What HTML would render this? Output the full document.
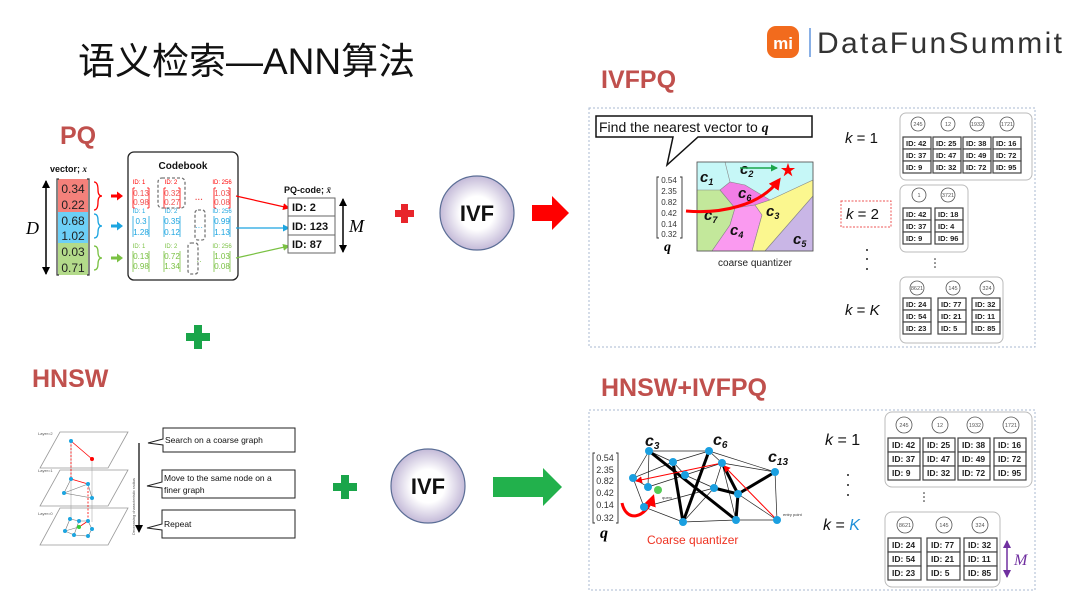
<!DOCTYPE html>
<html><head><meta charset="utf-8"><style>
html,body{margin:0;padding:0;background:#fff;}
svg{display:block;}
text{font-family:"Liberation Sans","Noto Sans CJK SC",sans-serif;}
.s{font-family:"Liberation Serif",serif;}
.c{fill:#fff;stroke:#555;stroke-width:0.8;}
.t{font-size:7.5px;font-weight:bold;fill:#222;}
.cl{font-size:5.5px;fill:#555;text-anchor:middle;}
.cell{fill:#fff;stroke:#444;stroke-width:1.2;}
</style></head><body>
<svg width="1080" height="608" viewBox="0 0 1080 608" xmlns="http://www.w3.org/2000/svg">
<defs>
<radialGradient id="ivf" cx="50%" cy="50%" r="50%"><stop offset="0.45" stop-color="#fff"/><stop offset="1" stop-color="#c4bad8"/></radialGradient>
<marker id="ar" markerUnits="userSpaceOnUse" markerWidth="7" markerHeight="7" refX="6" refY="3.5" orient="auto"><path d="M0,0 L7,3.5 L0,7z" fill="red"/></marker>
<marker id="arL" markerUnits="userSpaceOnUse" markerWidth="12" markerHeight="12" refX="9" refY="6" orient="auto"><path d="M0,0 L12,6 L0,12z" fill="red"/></marker>
<marker id="ab" markerUnits="userSpaceOnUse" markerWidth="7" markerHeight="7" refX="6" refY="3.5" orient="auto"><path d="M0,0 L7,3.5 L0,7z" fill="#1ca5e0"/></marker>
<marker id="ag" markerUnits="userSpaceOnUse" markerWidth="7" markerHeight="7" refX="6" refY="3.5" orient="auto"><path d="M0,0 L7,3.5 L0,7z" fill="#7ac143"/></marker>
<marker id="ak" markerUnits="userSpaceOnUse" markerWidth="8" markerHeight="8" refX="7" refY="4" orient="auto-start-reverse"><path d="M0,0 L8,4 L0,8z" fill="#000"/></marker>
<marker id="agr" markerUnits="userSpaceOnUse" markerWidth="7" markerHeight="7" refX="6" refY="3.5" orient="auto"><path d="M0,0 L7,3.5 L0,7z" fill="#1aa54a"/></marker>
<marker id="ap" markerUnits="userSpaceOnUse" markerWidth="8" markerHeight="8" refX="7" refY="4" orient="auto-start-reverse"><path d="M0,0 L8,4 L0,8z" fill="#7030a0"/></marker>
</defs>

<!-- Title -->
<text x="78" y="74" font-size="37" fill="#111">语义检索—ANN算法</text>
<!-- Logo -->
<rect x="767" y="26" width="32" height="32" rx="9" fill="#f26b1d"/>
<text x="783" y="49" font-size="17" font-weight="bold" fill="#fff" text-anchor="middle">mi</text>
<line x1="810" y1="28" x2="810" y2="57" stroke="#3a7bd5" stroke-width="1.2"/>
<text x="817" y="53" font-size="30" fill="#333" textLength="245">DataFunSummit</text>

<!-- Section labels -->
<g font-weight="bold" fill="#c0504d" font-size="25">
<text x="60" y="144">PQ</text>
<text x="601" y="88">IVFPQ</text>
<text x="32" y="387">HNSW</text>
<text x="601" y="396">HNSW+IVFPQ</text>
</g>

<!-- PQ figure -->
<text x="50" y="172" font-size="9" font-weight="bold" fill="#111">vector; <tspan class="s" font-style="italic">x</tspan></text>
<rect x="58" y="179" width="30" height="33" fill="#f4817b"/>
<rect x="58" y="212" width="30" height="31" fill="#6dcff6"/>
<rect x="58" y="243" width="30" height="32" fill="#b3da8a"/>
<path d="M59,179 h-2 v96 h2 M87,179 h2 v96 h-2" fill="none" stroke="#333" stroke-width="1.2"/>
<g font-size="12" fill="#222" text-anchor="middle" class="s">
<text x="73" y="193">0.34</text><text x="73" y="209">0.22</text>
<text x="73" y="225">0.68</text><text x="73" y="240">1.02</text>
<text x="73" y="256">0.03</text><text x="73" y="272">0.71</text>
</g>
<line x1="46" y1="181" x2="46" y2="274" stroke="#000" stroke-width="1.5" marker-start="url(#ak)" marker-end="url(#ak)"/>
<text x="26" y="234" class="s" font-style="italic" font-size="18">D</text>
<path d="M94,182 q4,0 4,8 q0,6 4,6 q-4,0 -4,6 q0,8 -4,8" fill="none" stroke="red" stroke-width="1.3"/>
<path d="M94,214 q4,0 4,6 q0,6 4,6 q-4,0 -4,6 q0,6 -4,6" fill="none" stroke="#1ca5e0" stroke-width="1.3"/>
<path d="M94,246 q4,0 4,6 q0,6 4,6 q-4,0 -4,6 q0,6 -4,6" fill="none" stroke="#7ac143" stroke-width="1.3"/>
<path d="M111,194.5 h6 v-3 l6,4.5 l-6,4.5 v-3 h-6z" fill="red"/>
<path d="M111,224.5 h6 v-3 l6,4.5 l-6,4.5 v-3 h-6z" fill="#1ca5e0"/>
<path d="M111,256.5 h6 v-3 l6,4.5 l-6,4.5 v-3 h-6z" fill="#7ac143"/>

<rect x="128" y="152" width="110" height="128" rx="6" fill="#fff" stroke="#222" stroke-width="1.3"/>
<text x="183" y="169" font-size="10" font-weight="bold" text-anchor="middle" fill="#111">Codebook</text>
<g font-size="6" text-anchor="middle">
<g fill="red"><text x="139" y="184">ID: 1</text><text x="171" y="184">ID: 2</text><text x="222" y="184">ID: 256</text></g>
<g fill="#1ca5e0"><text x="139" y="213">ID: 1</text><text x="171" y="213">ID: 2</text><text x="222" y="213">ID: 256</text></g>
<g fill="#7ac143"><text x="139" y="248">ID: 1</text><text x="171" y="248">ID: 2</text><text x="222" y="248">ID: 256</text></g>
</g>
<g font-size="8" text-anchor="middle" class="s">
<g fill="#f05050"><text x="141" y="196">0.13</text><text x="141" y="205">0.98</text><text x="172" y="196">0.32</text><text x="172" y="205">0.27</text><text x="222" y="196">1.03</text><text x="222" y="205">0.08</text><text x="199" y="202" font-weight="bold">···</text></g>
<g fill="#1ca5e0"><text x="141" y="224">0.3</text><text x="141" y="235">1.28</text><text x="172" y="224">0.35</text><text x="172" y="235">0.12</text><text x="222" y="224">0.99</text><text x="222" y="235">1.13</text><text x="199" y="230">···</text></g>
<g fill="#7ac143"><text x="141" y="259">0.13</text><text x="141" y="269">0.98</text><text x="172" y="259">0.72</text><text x="172" y="269">1.34</text><text x="222" y="259">1.03</text><text x="222" y="269">0.08</text><text x="199" y="264">··</text></g>
</g>
<g fill="none" stroke-width="0.8">
<path d="M133,188 v20 M133,188 h2 M133,208 h2 M149,188 v20 M149,188 h-2 M149,208 h-2 M164,188 v20 M164,188 h2 M164,208 h2 M180,188 v20 M180,188 h-2 M180,208 h-2 M214,188 v20 M214,188 h2 M214,208 h2 M230,188 v20 M230,188 h-2 M230,208 h-2" stroke="red"/>
<path d="M133,216 v21 M149,216 v21 M164,216 v21 M180,216 v21 M214,216 v21 M230,216 v21" stroke="#1ca5e0"/>
<path d="M133,251 v21 M149,251 v21 M164,251 v21 M180,251 v21 M214,251 v21 M230,251 v21" stroke="#7ac143"/>
</g>
<g fill="none" stroke="#777" stroke-width="1.3" stroke-dasharray="3,2">
<rect x="158" y="178" width="27" height="30" rx="4"/>
<rect x="195" y="210" width="10" height="30" rx="3"/>
<rect x="188" y="243" width="10" height="31" rx="3"/>
</g>
<line x1="236" y1="196" x2="289" y2="208" stroke="red" stroke-width="1.2" marker-end="url(#ar)"/>
<line x1="236" y1="228" x2="289" y2="228" stroke="#1ca5e0" stroke-width="1.2" marker-end="url(#ab)"/>
<line x1="236" y1="258" x2="289" y2="246" stroke="#7ac143" stroke-width="1.2" marker-end="url(#ag)"/>
<text x="284" y="193" font-size="9" font-weight="bold" fill="#111">PQ-code; <tspan class="s" font-style="italic">x̄</tspan></text>
<rect x="288" y="198" width="47" height="18" fill="#fff" stroke="#666"/>
<rect x="288" y="216" width="47" height="19" fill="#fff" stroke="#666"/>
<rect x="288" y="235" width="47" height="18" fill="#fff" stroke="#666"/>
<g font-size="11" font-weight="bold" fill="#111"><text x="292" y="211">ID: 2</text><text x="292" y="230">ID: 123</text><text x="292" y="248">ID: 87</text></g>
<line x1="343" y1="199" x2="343" y2="252" stroke="#000" stroke-width="1.5" marker-start="url(#ak)" marker-end="url(#ak)"/>
<text x="349" y="232" class="s" font-style="italic" font-size="18">M</text>

<!-- Plus signs -->
<path d="M395,210 h6 v-6 h7 v6 h6 v7 h-6 v6 h-7 v-6 h-6z" fill="#e8252b"/>
<path d="M186,333 h8 v-8 h8 v8 h8 v8 h-8 v8 h-8 v-8 h-8z" fill="#1aa54a"/>
<path d="M333,483 h8 v-8 h8 v8 h8 v8 h-8 v8 h-8 v-8 h-8z" fill="#1aa54a"/>

<!-- IVF circles -->
<circle cx="477" cy="213" r="37" fill="url(#ivf)" stroke="#5b6e96" stroke-width="1.2"/>
<text x="477" y="221" font-size="22" font-weight="bold" text-anchor="middle" fill="#111">IVF</text>
<circle cx="428" cy="486" r="37" fill="url(#ivf)" stroke="#5b6e96" stroke-width="1.2"/>
<text x="428" y="494" font-size="22" font-weight="bold" text-anchor="middle" fill="#111">IVF</text>
<path d="M532,205 h20 v-9 L569,213 L552,230 v-9 h-20z" fill="#f00"/>
<path d="M493,477 h50 v-9 L562,487 L543,506 v-9 h-50z" fill="#22b14c"/>

<!-- IVFPQ panel -->
<rect x="589" y="108" width="446" height="239" fill="none" stroke="#a8b8d0" stroke-width="1" stroke-dasharray="2,2"/>
<path d="M596,116 h216 v21 h-114 l-31,28 l6,-28 h-77z" fill="#fff" stroke="#111" stroke-width="1.5"/>
<text x="599" y="132" font-size="14" fill="#111">Find the nearest vector to <tspan class="s" font-weight="bold" font-style="italic">q</tspan></text>
<path d="M659,177 h-2 v61 h2 M680,177 h2 v61 h-2" fill="none" stroke="#333" stroke-width="0.9"/>
<g font-size="8" fill="#333" class="s" text-anchor="middle"><text x="669" y="183">0.54</text><text x="669" y="194">2.35</text><text x="669" y="205">0.82</text><text x="669" y="216">0.42</text><text x="669" y="227">0.14</text><text x="669" y="237">0.32</text></g>
<text x="664" y="251" class="s" font-weight="bold" font-style="italic" font-size="14">q</text>
<g stroke="#888" stroke-width="0.6">
<rect x="697" y="162" width="116" height="89" fill="#c6f7f7"/>
<path d="M697,190 L720,190 L735,208 L730,225 L712,251 L697,251z" fill="#c3e89b"/>
<path d="M720,190 L730,182 L745,185 L770,200 L755,205 L735,208z" fill="#f27ee6"/>
<path d="M735,208 L755,205 L762,215 L752,251 L712,251 L730,225z" fill="#fa9af0"/>
<path d="M762,215 L755,205 L770,200 L813,180 L813,196 L765,251 L752,251z" fill="#fbf78f"/>
<path d="M813,196 L813,251 L765,251z" fill="#c9b6e6"/>
<path d="M725,162 L730,182" fill="none"/>
</g>
<rect x="697" y="162" width="116" height="89" fill="none" stroke="#555" stroke-width="0.8"/>
<g class="s" font-weight="bold" font-style="italic" font-size="15" fill="#111">
<text x="700" y="182">c<tspan font-size="9" dy="3">1</tspan></text>
<text x="740" y="174">c<tspan font-size="9" dy="3">2</tspan></text>
<text x="738" y="198">c<tspan font-size="9" dy="3">6</tspan></text>
<text x="766" y="216">c<tspan font-size="9" dy="3">3</tspan></text>
<text x="704" y="220">c<tspan font-size="9" dy="3">7</tspan></text>
<text x="730" y="235">c<tspan font-size="9" dy="3">4</tspan></text>
<text x="793" y="244">c<tspan font-size="9" dy="3">5</tspan></text>
</g>
<line x1="740" y1="168" x2="777" y2="168" stroke="#1aa54a" stroke-width="1.4" marker-end="url(#agr)"/>
<path d="M686,211 C720,214 760,206 779,180" fill="none" stroke="red" stroke-width="3" marker-end="url(#arL)"/>
<text x="788" y="175" font-size="15" fill="red" text-anchor="middle">★</text>
<text x="755" y="266" font-size="10" fill="#222" text-anchor="middle">coarse quantizer</text>
<g class="s" font-size="15" fill="#111">
<text x="845" y="143"><tspan font-style="italic">k</tspan> = 1</text>
<text x="846" y="219"><tspan font-style="italic">k</tspan> = 2</text>
<text x="845" y="315"><tspan font-style="italic">k</tspan> = <tspan font-style="italic">K</tspan></text>
</g>
<rect x="841" y="201" width="50" height="26" fill="none" stroke="#e55" stroke-dasharray="2,1.5"/>
<g fill="#222"><circle cx="867" cy="250" r="1"/><circle cx="867" cy="259" r="1"/><circle cx="867" cy="269" r="1"/><circle cx="935" cy="259" r="0.8"/><circle cx="935" cy="263" r="0.8"/><circle cx="935" cy="267" r="0.8"/></g>

<!-- IVFPQ tables -->
<g>
<rect x="900" y="113" width="132" height="67" rx="6" fill="#fff" stroke="#bbb"/>
<circle cx="918" cy="124" r="7" class="c"/><circle cx="948" cy="124" r="7" class="c"/><circle cx="977" cy="124" r="7" class="c"/><circle cx="1007" cy="124" r="7" class="c"/>
<text x="918" y="126" class="cl">245</text><text x="948" y="126" class="cl">12</text><text x="977" y="126" class="cl">1932</text><text x="1007" y="126" class="cl">1721</text>
<g class="cell"><rect x="903" y="137" width="28" height="12"/><rect x="903" y="149" width="28" height="12"/><rect x="903" y="161" width="28" height="12"/>
<rect x="933" y="137" width="28" height="12"/><rect x="933" y="149" width="28" height="12"/><rect x="933" y="161" width="28" height="12"/>
<rect x="963" y="137" width="28" height="12"/><rect x="963" y="149" width="28" height="12"/><rect x="963" y="161" width="28" height="12"/>
<rect x="993" y="137" width="28" height="12"/><rect x="993" y="149" width="28" height="12"/><rect x="993" y="161" width="28" height="12"/></g>
<g class="t"><text x="906" y="146">ID: 42</text><text x="906" y="158">ID: 37</text><text x="906" y="170">ID: 9</text>
<text x="936" y="146">ID: 25</text><text x="936" y="158">ID: 47</text><text x="936" y="170">ID: 32</text>
<text x="966" y="146">ID: 38</text><text x="966" y="158">ID: 49</text><text x="966" y="170">ID: 72</text>
<text x="996" y="146">ID: 16</text><text x="996" y="158">ID: 72</text><text x="996" y="170">ID: 95</text></g>
</g>
<g>
<rect x="900" y="185" width="68" height="67" rx="6" fill="#fff" stroke="#bbb"/>
<circle cx="919" cy="195" r="7" class="c"/><circle cx="948" cy="195" r="7" class="c"/>
<text x="919" y="197" class="cl">1</text><text x="948" y="197" class="cl">3721</text>
<g class="cell"><rect x="903" y="208" width="28" height="12"/><rect x="903" y="220" width="28" height="12"/><rect x="903" y="232" width="28" height="12"/>
<rect x="935" y="208" width="28" height="12"/><rect x="935" y="220" width="28" height="12"/><rect x="935" y="232" width="28" height="12"/></g>
<g class="t"><text x="906" y="217">ID: 42</text><text x="906" y="229">ID: 37</text><text x="906" y="241">ID: 9</text>
<text x="938" y="217">ID: 18</text><text x="938" y="229">ID: 4</text><text x="938" y="241">ID: 96</text></g>
</g>
<g>
<rect x="900" y="277" width="103" height="66" rx="6" fill="#fff" stroke="#bbb"/>
<circle cx="917" cy="288" r="7" class="c"/><circle cx="953" cy="288" r="7" class="c"/><circle cx="987" cy="288" r="7" class="c"/>
<text x="917" y="290" class="cl">8621</text><text x="953" y="290" class="cl">145</text><text x="987" y="290" class="cl">324</text>
<g class="cell"><rect x="903" y="298" width="28" height="12"/><rect x="903" y="310" width="28" height="12"/><rect x="903" y="322" width="28" height="12"/>
<rect x="938" y="298" width="28" height="12"/><rect x="938" y="310" width="28" height="12"/><rect x="938" y="322" width="28" height="12"/>
<rect x="972" y="298" width="28" height="12"/><rect x="972" y="310" width="28" height="12"/><rect x="972" y="322" width="28" height="12"/></g>
<g class="t"><text x="906" y="307">ID: 24</text><text x="906" y="319">ID: 54</text><text x="906" y="331">ID: 23</text>
<text x="941" y="307">ID: 77</text><text x="941" y="319">ID: 21</text><text x="941" y="331">ID: 5</text>
<text x="975" y="307">ID: 32</text><text x="975" y="319">ID: 11</text><text x="975" y="331">ID: 85</text></g>
</g>

<!-- HNSW figure -->
<g fill="#fff" stroke="#999" stroke-width="0.8">
<path d="M60,432 L128,432 L108,468 L40,468z"/>
<path d="M60,470 L128,470 L108,506 L40,506z"/>
<path d="M60,508 L128,508 L108,545 L40,545z"/>
</g>
<g font-size="4" fill="#555"><text x="38" y="435">Layer=2</text><text x="38" y="472">Layer=1</text><text x="38" y="515">Layer=0</text></g>
<g stroke="#999" stroke-width="0.5"><line x1="71" y1="441" x2="71" y2="518"/><line x1="92" y1="459" x2="92" y2="522"/></g>
<g stroke="red" stroke-width="0.8" stroke-dasharray="2,1.5"><line x1="71" y1="441" x2="71" y2="479"/><line x1="88" y1="484" x2="88" y2="521"/></g>
<g stroke="red" stroke-width="0.8"><line x1="71" y1="441" x2="92" y2="459"/><line x1="71" y1="479" x2="88" y2="484"/><line x1="88" y1="521" x2="79" y2="527"/></g>
<g stroke="#777" stroke-width="0.6" fill="none"><path d="M71,479 L64,493 L92,498 L88,484 M64,493 L88,484"/><path d="M70,519 L65,531 L74,535 L88,536 L92,529 L88,521 L79,521z M79,521 L74,535 M65,531 L79,527"/></g>
<g fill="#1ca5e0"><circle cx="71" cy="441" r="2"/><circle cx="71" cy="479" r="2"/><circle cx="88" cy="484" r="2"/><circle cx="64" cy="493" r="2"/><circle cx="92" cy="498" r="2"/><circle cx="70" cy="519" r="2"/><circle cx="79" cy="521" r="2"/><circle cx="88" cy="521" r="2"/><circle cx="65" cy="531" r="2"/><circle cx="74" cy="535" r="2"/><circle cx="88" cy="536" r="2"/><circle cx="92" cy="529" r="2"/></g>
<circle cx="92" cy="459" r="2" fill="red"/><circle cx="79" cy="527" r="2" fill="#3c3"/>
<line x1="139" y1="443" x2="139" y2="532" stroke="#000" stroke-width="1.2" marker-end="url(#ak)"/>
<text transform="translate(135,535) rotate(-90)" font-size="4" fill="#555">Decreasing characteristic radius</text>
<g fill="#fff" stroke="#222" stroke-width="1">
<path d="M163,428 h132 v24 h-132 v-7 l-15,-2 l15,-4z"/>
<path d="M162,470 h133 v28 h-133 v-10 l-15,-2 l15,-4z"/>
<path d="M162,510 h133 v28 h-133 v-8 l-15,-2 l15,-4z"/>
</g>
<g font-size="8.5" fill="#111"><text x="165" y="443">Search on a coarse graph</text><text x="164" y="481">Move to the same node on a</text><text x="164" y="493">finer graph</text><text x="164" y="527">Repeat</text></g>

<!-- HNSW+IVFPQ panel -->
<rect x="589" y="410" width="446" height="180" fill="none" stroke="#a8b8d0" stroke-width="1" stroke-dasharray="2,2"/>
<path d="M595,453 h-2 v70 h2 M616,453 h2 v70 h-2" fill="none" stroke="#333" stroke-width="0.9"/>
<g font-size="9" fill="#333" class="s" text-anchor="middle"><text x="605" y="461">0.54</text><text x="605" y="473">2.35</text><text x="605" y="484">0.82</text><text x="605" y="496">0.42</text><text x="605" y="508">0.14</text><text x="605" y="521">0.32</text></g>
<text x="600" y="538" class="s" font-weight="bold" font-style="italic" font-size="16">q</text>
<g stroke="#222" stroke-width="0.7">
<line x1="649" y1="451" x2="709" y2="451"/><line x1="649" y1="451" x2="633" y2="478"/><line x1="649" y1="451" x2="673" y2="462"/>
<line x1="633" y1="478" x2="644" y2="507"/><line x1="633" y1="478" x2="648" y2="487"/><line x1="673" y1="462" x2="685" y2="475"/>
<line x1="709" y1="451" x2="722" y2="463"/><line x1="709" y1="451" x2="775" y2="472"/><line x1="722" y1="463" x2="775" y2="472"/>
<line x1="775" y1="472" x2="777" y2="520"/><line x1="777" y1="520" x2="736" y2="520"/><line x1="736" y1="520" x2="683" y2="522"/>
<line x1="683" y1="522" x2="644" y2="507"/><line x1="648" y1="487" x2="685" y2="475"/><line x1="685" y1="475" x2="714" y2="488"/>
<line x1="714" y1="488" x2="722" y2="463"/><line x1="738" y1="494" x2="777" y2="520"/><line x1="673" y1="462" x2="709" y2="451"/>
<line x1="644" y1="507" x2="714" y2="488"/><line x1="685" y1="475" x2="722" y2="463"/><line x1="714" y1="488" x2="683" y2="522"/>
<line x1="648" y1="487" x2="649" y2="451"/><line x1="722" y1="463" x2="736" y2="520"/><line x1="673" y1="462" x2="633" y2="478"/>
</g>
<g stroke="#000" stroke-width="3">
<line x1="649" y1="451" x2="736" y2="520"/><line x1="709" y1="451" x2="683" y2="522"/><line x1="673" y1="462" x2="683" y2="522"/>
<line x1="714" y1="488" x2="738" y2="494"/><line x1="738" y1="494" x2="775" y2="472"/><line x1="722" y1="463" x2="738" y2="494"/><line x1="738" y1="494" x2="736" y2="520"/>
</g>
<line x1="777" y1="520" x2="724" y2="466" stroke="red" stroke-width="1" marker-end="url(#ar)"/>
<line x1="722" y1="463" x2="636" y2="481" stroke="red" stroke-width="1" marker-end="url(#ar)"/>
<path d="M622,503 C626,522 645,520 653,497" fill="none" stroke="red" stroke-width="3" marker-end="url(#arL)"/>
<g fill="#1a9fe0"><circle cx="649" cy="451" r="4"/><circle cx="709" cy="451" r="4"/><circle cx="673" cy="462" r="4"/><circle cx="685" cy="475" r="4"/><circle cx="722" cy="463" r="4"/><circle cx="775" cy="472" r="4"/><circle cx="633" cy="478" r="4"/><circle cx="648" cy="487" r="4"/><circle cx="644" cy="507" r="4"/><circle cx="714" cy="488" r="4"/><circle cx="738" cy="494" r="4"/><circle cx="683" cy="522" r="4"/><circle cx="736" cy="520" r="4"/><circle cx="777" cy="520" r="4"/></g>
<circle cx="658" cy="490" r="4" fill="#5c5"/>
<text x="662" y="499" font-size="4" fill="#333">query</text>
<text x="783" y="516" font-size="4" fill="#333">entry point</text>
<g class="s" font-weight="bold" font-style="italic" font-size="16" fill="#111">
<text x="645" y="446">c<tspan font-size="10" dy="3">3</tspan></text>
<text x="713" y="445">c<tspan font-size="10" dy="3">6</tspan></text>
<text x="768" y="462">c<tspan font-size="10" dy="3">13</tspan></text>
</g>
<text x="647" y="544" font-size="12" fill="#e32">Coarse quantizer</text>
<g class="s" font-size="16" fill="#111">
<text x="825" y="445"><tspan font-style="italic">k</tspan> = 1</text>
<text x="823" y="530"><tspan font-style="italic">k</tspan> = <tspan font-style="italic" fill="#1f8fd8">K</tspan></text>
</g>
<g fill="#222"><circle cx="848" cy="475" r="1"/><circle cx="848" cy="485" r="1"/><circle cx="848" cy="495" r="1"/><circle cx="924" cy="493" r="0.8"/><circle cx="924" cy="497" r="0.8"/><circle cx="924" cy="501" r="0.8"/></g>
<g>
<rect x="885" y="412" width="147" height="75" rx="7" fill="#fff" stroke="#bbb"/>
<circle cx="904" cy="425" r="8" class="c"/><circle cx="940" cy="425" r="8" class="c"/><circle cx="975" cy="425" r="8" class="c"/><circle cx="1011" cy="425" r="8" class="c"/>
<text x="904" y="427" class="cl">245</text><text x="940" y="427" class="cl">12</text><text x="975" y="427" class="cl">1932</text><text x="1011" y="427" class="cl">1721</text>
<g class="cell"><rect x="888" y="438" width="32" height="14"/><rect x="888" y="452" width="32" height="14"/><rect x="888" y="466" width="32" height="14"/>
<rect x="923" y="438" width="32" height="14"/><rect x="923" y="452" width="32" height="14"/><rect x="923" y="466" width="32" height="14"/>
<rect x="958" y="438" width="32" height="14"/><rect x="958" y="452" width="32" height="14"/><rect x="958" y="466" width="32" height="14"/>
<rect x="994" y="438" width="32" height="14"/><rect x="994" y="452" width="32" height="14"/><rect x="994" y="466" width="32" height="14"/></g>
<g class="t" style="font-size:8.5px"><text x="892" y="448">ID: 42</text><text x="892" y="462">ID: 37</text><text x="892" y="476">ID: 9</text>
<text x="927" y="448">ID: 25</text><text x="927" y="462">ID: 47</text><text x="927" y="476">ID: 32</text>
<text x="962" y="448">ID: 38</text><text x="962" y="462">ID: 49</text><text x="962" y="476">ID: 72</text>
<text x="998" y="448">ID: 16</text><text x="998" y="462">ID: 72</text><text x="998" y="476">ID: 95</text></g>
</g>
<g>
<rect x="885" y="512" width="115" height="75" rx="7" fill="#fff" stroke="#bbb"/>
<circle cx="905" cy="525" r="8" class="c"/><circle cx="944" cy="525" r="8" class="c"/><circle cx="980" cy="525" r="8" class="c"/>
<text x="905" y="527" class="cl">8621</text><text x="944" y="527" class="cl">145</text><text x="980" y="527" class="cl">324</text>
<g class="cell"><rect x="888" y="538" width="33" height="14"/><rect x="888" y="552" width="33" height="14"/><rect x="888" y="566" width="33" height="14"/>
<rect x="927" y="538" width="33" height="14"/><rect x="927" y="552" width="33" height="14"/><rect x="927" y="566" width="33" height="14"/>
<rect x="964" y="538" width="33" height="14"/><rect x="964" y="552" width="33" height="14"/><rect x="964" y="566" width="33" height="14"/></g>
<g class="t" style="font-size:8.5px"><text x="892" y="548">ID: 24</text><text x="892" y="562">ID: 54</text><text x="892" y="576">ID: 23</text>
<text x="931" y="548">ID: 77</text><text x="931" y="562">ID: 21</text><text x="931" y="576">ID: 5</text>
<text x="968" y="548">ID: 32</text><text x="968" y="562">ID: 11</text><text x="968" y="576">ID: 85</text></g>
</g>
<line x1="1007" y1="541" x2="1007" y2="577" stroke="#7030a0" stroke-width="1.5" marker-start="url(#ap)" marker-end="url(#ap)"/>
<text x="1014" y="565" class="s" font-style="italic" font-size="16" fill="#7030a0">M</text>
</svg>
</body></html>
